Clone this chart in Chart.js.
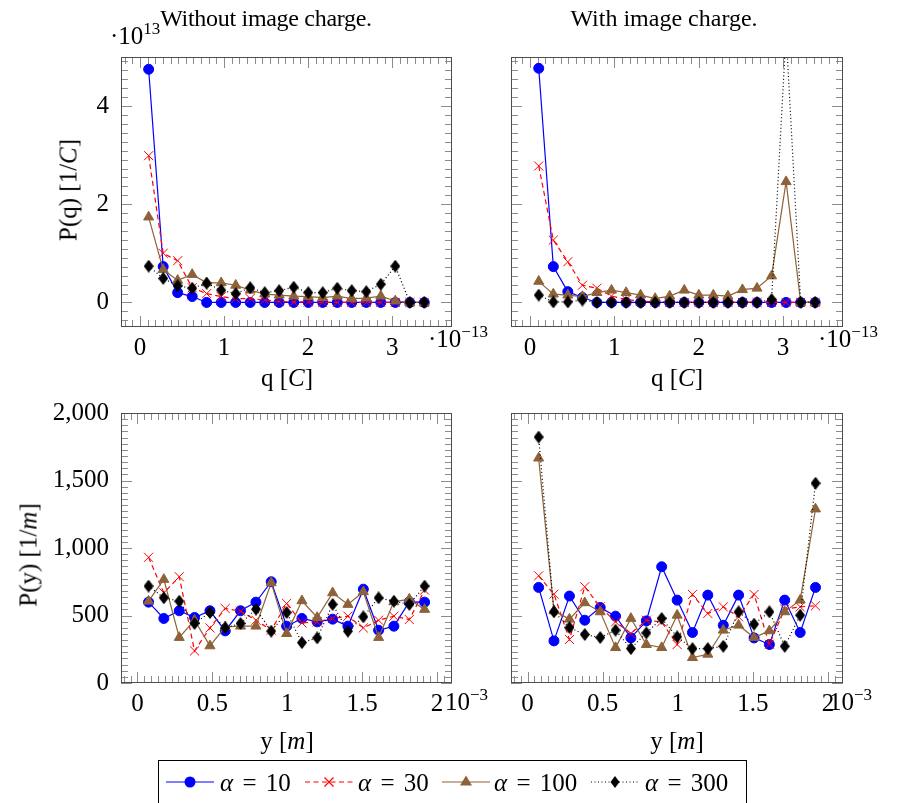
<!DOCTYPE html>
<html>
<head>
<meta charset="utf-8">
<script src="https://cdn.jsdelivr.net/npm/chart.js@4.4.0/dist/chart.umd.min.js"></script>
<style>
  body { margin: 0; background: #fff; }
  #wrap { position: relative; width: 899px; height: 803px; overflow: hidden; font-family: "Liberation Serif", serif; color: #000; }
  #wrap canvas { position: absolute; left: 0; top: 0; }
  .t { position: absolute; white-space: nowrap; font-size: 25px; line-height: 25px; }
  .c { transform: translateX(-50%); }
  .rot { transform: translate(-50%, -50%) rotate(-90deg); }
  .sup { font-size: 17px; position: relative; top: -10px; }
  #legend { position: absolute; left: 158px; top: 760px; width: 589px; height: 44px; border: 1px solid #000; box-sizing: border-box; }
  #legend svg { position: absolute; top: 10px; }
  #legend .t { top: 9px; word-spacing: 3px; }
</style>
</head>
<body>
<div id="wrap">
  <canvas id="cTL" width="899" height="803"></canvas>
  <canvas id="cTR" width="899" height="803"></canvas>
  <canvas id="cBL" width="899" height="803"></canvas>
  <canvas id="cBR" width="899" height="803"></canvas>

  <div class="t c" style="left:266px;top:6px;font-size:24px;letter-spacing:-0.3px">Without image charge.</div>
  <div class="t c" style="left:664px;top:6px;font-size:24px">With image charge.</div>

  <div class="t" style="left:110px;top:23px">·10<span class="sup">13</span></div>
  <div class="t" style="left:428px;top:326px">·10<span class="sup">−13</span></div>
  <div class="t" style="left:818px;top:326px">·10<span class="sup">−13</span></div>
  <div class="t" style="left:445px;top:689px">10<span class="sup">−3</span></div>
  <div class="t" style="left:829px;top:689px">10<span class="sup">−3</span></div>

  <div class="t c" style="left:287px;top:365px">q [<i>C</i>]</div>
  <div class="t c" style="left:677px;top:365px">q [<i>C</i>]</div>
  <div class="t c" style="left:287px;top:728px">y [<i>m</i>]</div>
  <div class="t c" style="left:677px;top:728px">y [<i>m</i>]</div>
  <div class="t rot" style="left:68px;top:190px">P(q) [1/<i>C</i>]</div>
  <div class="t rot" style="left:28px;top:555px">P(y) [1/<i>m</i>]</div>

  <div id="legend">
    <svg style="left:7px" width="48" height="22"><line x1="0" y1="11" x2="48" y2="11" stroke="#0000ff" stroke-width="1.2"/><circle cx="24" cy="11" r="5.5" fill="#0000ff"/></svg>
    <div class="t" style="left:61px"><i>α</i> = 10</div>
    <svg style="left:146px" width="48" height="22"><line x1="0" y1="11" x2="48" y2="11" stroke="#ff0000" stroke-width="1.2" stroke-dasharray="5 3.5"/><path d="M19.5 6.5 L28.5 15.5 M28.5 6.5 L19.5 15.5" stroke="#ff0000" stroke-width="1.2"/></svg>
    <div class="t" style="left:199px"><i>α</i> = 30</div>
    <svg style="left:283px" width="48" height="22"><line x1="0" y1="11" x2="48" y2="11" stroke="#8d6238" stroke-width="1.2"/><path d="M24 4.5 L30 14.5 L18 14.5 Z" fill="#8d6238"/></svg>
    <div class="t" style="left:335px"><i>α</i> = 100</div>
    <svg style="left:432px" width="48" height="22"><line x1="0" y1="11" x2="48" y2="11" stroke="#000" stroke-width="1.2" stroke-dasharray="1 2.5"/><path d="M24 5 L28.5 11 L24 17 L19.5 11 Z" fill="#000"/></svg>
    <div class="t" style="left:486px"><i>α</i> = 300</div>
  </div>
</div>

<script>
// bin centres (q in 1e-13 C, y in 1e-3 m)
const qBins = [0.103, 0.276, 0.448, 0.621, 0.793, 0.966, 1.139, 1.311, 1.484, 1.656,
               1.829, 2.002, 2.174, 2.347, 2.519, 2.692, 2.865, 3.037, 3.210, 3.382];
const yBins = [0.074, 0.176, 0.279, 0.381, 0.484, 0.586, 0.688, 0.791, 0.893, 0.996,
               1.098, 1.200, 1.303, 1.405, 1.508, 1.610, 1.712, 1.815, 1.917];

const qTicks = [0, 1, 2, 3];
const pqTicks = [0, 2, 4];
const yTicks = [0, 0.5, 1, 1.5, 2];
const pyTicks = [0, 500, 1000, 1500, 2000];

const alphaLabels = ['α = 10', 'α = 30', 'α = 100', 'α = 300'];

// P(q), without image charge (1e13 / C)
const pqNo10  = [4.75, 0.73, 0.20, 0.12, 0, 0, 0, 0, 0, 0, 0, 0, 0, 0, 0, 0, 0, 0, 0, 0];
const pqNo30  = [2.99, 1.00, 0.85, 0.30, 0.18, 0.12, 0.08, 0.08, 0.05, 0.02, 0.01, 0.01, 0, 0, 0, 0, 0, 0, 0, 0];
const pqNo100 = [1.74, 0.67, 0.45, 0.57, 0.40, 0.40, 0.35, 0.25, 0.17, 0.15, 0.13, 0.12, 0.10, 0.13, 0.08, 0.09, 0.13, 0.03, 0, 0];
const pqNo300 = [0.74, 0.49, 0.34, 0.29, 0.39, 0.25, 0.18, 0.30, 0.20, 0.24, 0.31, 0.20, 0.20, 0.29, 0.24, 0.22, 0.37, 0.74, 0, 0];

// P(q), with image charge
const pqImg10  = [4.77, 0.73, 0.22, 0.10, 0, 0, 0, 0, 0, 0, 0, 0, 0, 0, 0, 0, 0, 0, 0, 0];
const pqImg30  = [2.78, 1.27, 0.83, 0.35, 0.29, 0.13, 0.06, 0.03, 0.01, 0, 0, 0, 0, 0, 0, 0, 0, 0, 0, 0];
const pqImg100 = [0.43, 0.17, 0.15, 0.12, 0.20, 0.25, 0.20, 0.15, 0.08, 0.13, 0.25, 0.15, 0.15, 0.13, 0.26, 0.29, 0.54, 2.46, 0, 0];
const pqImg300 = [0.15, 0.01, 0.01, 0.05, 0, 0, 0, 0, 0, 0, 0, 0, 0, 0, 0, 0, 0.06, 5.5, 0, 0];

// P(y), without image charge (1/m)
const pyNo10  = [599, 478, 535, 485, 535, 386, 535, 599, 750, 421, 478, 453, 473, 421, 695, 391, 421, 601, 599];
const pyNo30  = [931, 668, 787, 238, 408, 552, 532, 465, 391, 589, 445, 453, 478, 495, 408, 465, 495, 470, 688];
const pyNo100 = [606, 767, 337, 465, 275, 416, 421, 421, 743, 366, 609, 485, 668, 582, 676, 337, 601, 621, 545];
const pyNo300 = [718, 631, 606, 441, 522, 408, 441, 547, 384, 522, 299, 334, 582, 384, 490, 631, 606, 582, 718];

// P(y), with image charge
const pyImg10  = [708, 312, 644, 465, 559, 495, 334, 460, 861, 614, 374, 651, 428, 651, 334, 285, 614, 374, 708];
const pyImg30  = [794, 658, 322, 713, 564, 453, 366, 465, 453, 285, 656, 515, 564, 490, 656, 287, 547, 564, 572];
const pyImg100 = [1666, 535, 473, 594, 527, 262, 478, 285, 262, 502, 188, 213, 391, 428, 337, 386, 527, 614, 1289];
const pyImg300 = [1822, 527, 411, 359, 337, 391, 255, 371, 478, 342, 255, 255, 272, 527, 436, 527, 272, 502, 1480];

const W = 899, H = 803;
const YW = 100, XH = 60;

Chart.defaults.font.family = '"Liberation Serif", serif';
Chart.defaults.font.size = 25;
Chart.defaults.color = '#000';

// tall black diamond marker
const diamond = document.createElement('canvas');
diamond.width = 10;
diamond.height = 13;
(function () {
    const g = diamond.getContext('2d');
    g.fillStyle = '#000';
    g.beginPath();
    g.moveTo(5, 0); g.lineTo(10, 6.5); g.lineTo(5, 13); g.lineTo(0, 6.5);
    g.closePath();
    g.fill();
})();

const styles = [
    { color: '#0000ff', dash: [], point: 'circle', radius: 5 },
    { color: '#ff0000', dash: [5, 3.5], point: 'crossRot', radius: 6.4 },
    { color: '#8d6238', dash: [], point: 'triangle', radius: 5.8 },
    { color: '#000000', dash: [1, 2.5], point: diamond, radius: 6 }
];

// pgfplots-style box with inward major / minor ticks on all sides
const frameTicks = {
    id: 'frameTicks',
    beforeDatasetsDraw(chart, args, opts) {
        const { ctx, chartArea: a, scales: { x, y } } = chart;
        ctx.save();
        ctx.lineWidth = 1;
        ctx.strokeStyle = '#8c8c8c';
        const drawAxisTicks = (scale, major, horiz) => {
            const step = (major[1] - major[0]) / 11;
            const k0 = Math.ceil(scale.min / step - 1e-9);
            const k1 = Math.floor(scale.max / step + 1e-9);
            for (let k = k0; k <= k1; k++) {
                const isMajor = Math.abs(k % 11) === 0;
                const len = isMajor ? 11 : 7;
                const p = Math.round(scale.getPixelForValue(k * step)) + 0.5;
                ctx.beginPath();
                if (horiz) {
                    ctx.moveTo(p, a.bottom); ctx.lineTo(p, a.bottom - len);
                    ctx.moveTo(p, a.top); ctx.lineTo(p, a.top + len);
                } else {
                    ctx.moveTo(a.left, p); ctx.lineTo(a.left + len, p);
                    ctx.moveTo(a.right, p); ctx.lineTo(a.right - len, p);
                }
                ctx.stroke();
            }
        };
        drawAxisTicks(x, opts.xMajor, true);
        drawAxisTicks(y, opts.yMajor, false);
        ctx.strokeStyle = '#4d4d4d';
        ctx.strokeRect(a.left + 0.5, a.top + 0.5, a.right - a.left - 1, a.bottom - a.top - 1);
        ctx.restore();
    }
};

function panel(id, area, xs, xRange, xMajor, yRange, yMajor, series, yLabel) {
    new Chart(document.getElementById(id), {
        type: 'line',
        data: {
            datasets: series.map((vals, i) => ({
                label: alphaLabels[i],
                data: xs.map((x, j) => ({ x: x, y: vals[j] })),
                borderColor: styles[i].color,
                backgroundColor: styles[i].color,
                borderWidth: 1.2,
                borderDash: styles[i].dash,
                pointStyle: styles[i].point,
                pointRadius: styles[i].radius,
                pointBorderWidth: 1,
                tension: 0,
                order: 4 - i
            }))
        },
        options: {
            responsive: false,
            animation: false,
            events: [],
            layout: { padding: { left: area.l - YW, right: W - area.r, top: area.t, bottom: H - area.b - XH } },
            plugins: {
                legend: { display: false },
                tooltip: { enabled: false },
                frameTicks: { xMajor: xMajor, yMajor: yMajor }
            },
            scales: {
                x: {
                    type: 'linear', min: xRange[0], max: xRange[1],
                    grid: { display: false, drawTicks: false }, border: { display: false },
                    afterBuildTicks: s => { s.ticks = xMajor.map(v => ({ value: v })); },
                    afterFit: s => { s.height = XH; },
                    ticks: { padding: 6, autoSkip: false, maxRotation: 0, callback: v => String(v) }
                },
                y: {
                    type: 'linear', min: yRange[0], max: yRange[1],
                    grid: { display: false, drawTicks: false }, border: { display: false },
                    afterBuildTicks: s => { s.ticks = yMajor.map(v => ({ value: v })); },
                    afterFit: s => { s.width = YW; },
                    ticks: { display: yLabel !== null, padding: 12, autoSkip: false, callback: yLabel || (v => '') }
                }
            }
        },
        plugins: [frameTicks]
    });
}

const qRange = [-0.226, 3.712];
const pqRange = [-0.5, 5];
const yRange = [-0.11, 2.10];
const pyRange = [0, 2000];

panel('cTL', { l: 121, r: 452, t: 57, b: 327 }, qBins, qRange, qTicks, pqRange, pqTicks,
      [pqNo10, pqNo30, pqNo100, pqNo300], v => String(v));
panel('cTR', { l: 511, r: 843, t: 57, b: 327 }, qBins, qRange, qTicks, pqRange, pqTicks,
      [pqImg10, pqImg30, pqImg100, pqImg300], null);
panel('cBL', { l: 121, r: 452, t: 413, b: 683 }, yBins, yRange, yTicks, pyRange, pyTicks,
      [pyNo10, pyNo30, pyNo100, pyNo300], v => v.toLocaleString('en-US'));
panel('cBR', { l: 511, r: 843, t: 413, b: 683 }, yBins, yRange, yTicks, pyRange, pyTicks,
      [pyImg10, pyImg30, pyImg100, pyImg300], null);
</script>
</body>
</html>
